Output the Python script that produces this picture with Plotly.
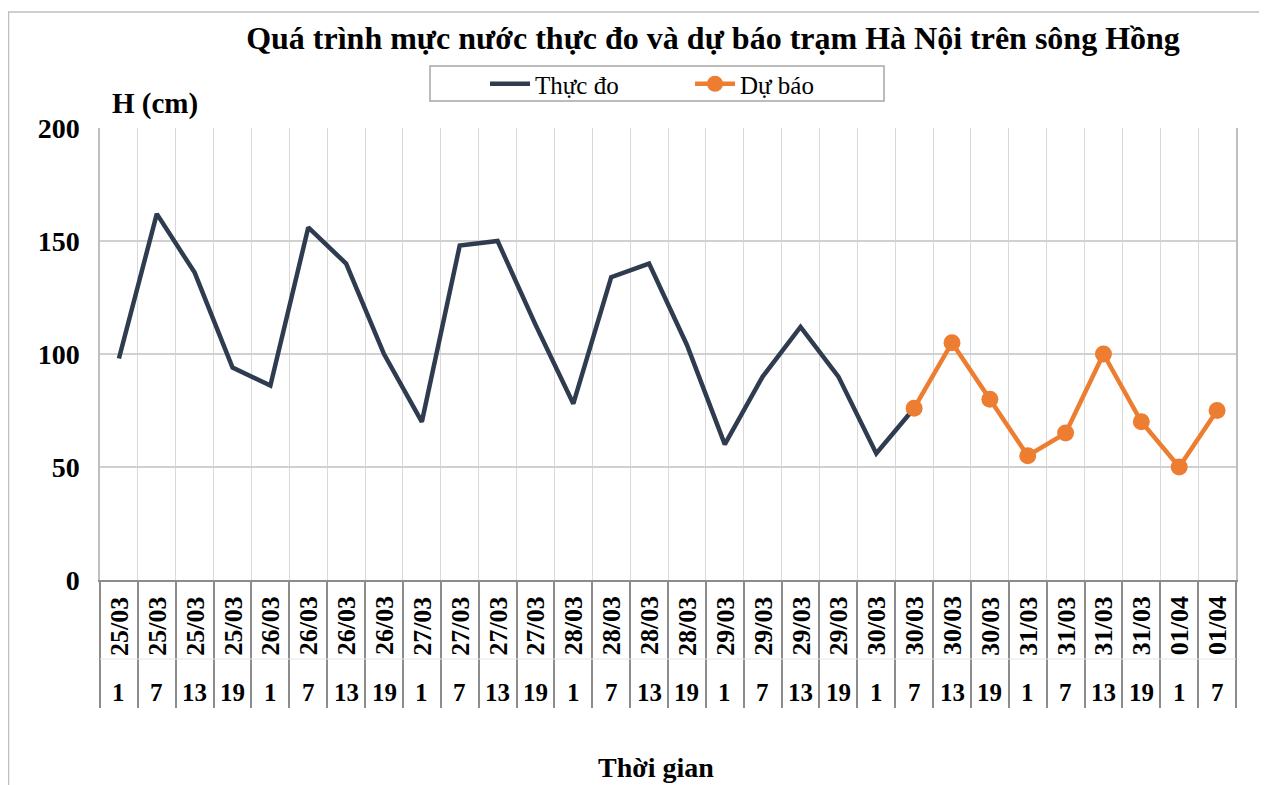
import plotly.graph_objects as go

# ---- data ----
dates = ["25/03"] * 4 + ["26/03"] * 4 + ["27/03"] * 4 + ["28/03"] * 4 + ["29/03"] * 4 + \
        ["30/03"] * 4 + ["31/03"] * 4 + ["01/04"] * 2
hours = ["1", "7", "13", "19"] * 7 + ["1", "7"]
observed = [98, 162, 136, 94, 86, 156, 140, 100, 70, 148, 150, 113, 78, 134, 140, 104,
            60, 90, 112, 90, 56, 76]
forecast = [76, 105, 80, 55, 65, 100, 70, 50, 75]
y_ticks = [0, 50, 100, 150, 200]

title_text = "Quá trình mực nước thực đo và dự báo trạm Hà Nội trên sông Hồng"
y_title = "H (cm)"
x_title = "Thời gian"

# ---- layout geometry (figure pixels; page has an 8px body margin) ----
W, H = 1259, 777
L, R, T, B = 92, 1228, 120, 572


def px_x(p):
    return (p - L) / (R - L)


def px_y(p):
    return (B - p) / (B - T)


n = len(dates)
idx = list(range(n))
obs_x = idx[:len(observed)]
fc_start = len(observed) - 1
fc_x = idx[fc_start:fc_start + len(forecast)]

SERIF = "Liberation Serif"

fig = go.Figure()
fig.add_trace(go.Scatter(
    x=obs_x, y=observed, mode="lines", name="Thực đo",
    line=dict(color="#2F3C50", width=4.5),
))
fig.add_trace(go.Scatter(
    x=fc_x, y=forecast, mode="lines+markers", name="Dự báo",
    line=dict(color="#ED7D31", width=4.5),
    marker=dict(color="#ED7D31", size=17),
))

annotations = []
for i in idx:
    annotations.append(dict(
        x=i, xref="x", y=px_y(618), yref="paper", text="<b>" + dates[i] + "</b>",
        textangle=-90, showarrow=False, xanchor="center", yanchor="middle",
        font=dict(family=SERIF, size=26, color="black"),
    ))
    annotations.append(dict(
        x=i, xref="x", y=px_y(684), yref="paper", text="<b>" + hours[i] + "</b>",
        showarrow=False, xanchor="center", yanchor="middle",
        font=dict(family=SERIF, size=25, color="black"),
    ))
annotations.append(dict(
    x=px_x(102), xref="paper", y=px_y(95), yref="paper", text="<b>" + y_title + "</b>",
    showarrow=False, xanchor="left", yanchor="middle",
    font=dict(family=SERIF, size=29, color="black"),
))
annotations.append(dict(
    x=px_x(648), xref="paper", y=px_y(759), yref="paper", text="<b>" + x_title + "</b>",
    showarrow=False, xanchor="center", yanchor="middle",
    font=dict(family=SERIF, size=28, color="black"),
))

shapes = [
    # outer chart frame
    dict(type="rect", xref="paper", yref="paper",
         x0=px_x(0.5), x1=px_x(1300), y0=px_y(820), y1=px_y(4),
         line=dict(color="#BFBFBF", width=1.5), fillcolor="rgba(0,0,0,0)", layer="below"),
    # legend box
    dict(type="rect", xref="paper", yref="paper",
         x0=px_x(422), x1=px_x(876), y0=px_y(93), y1=px_y(58),
         line=dict(color="#A6A6A6", width=1.5), fillcolor="white", layer="below"),
    # faint divider between label rows
    dict(type="line", xref="paper", yref="paper",
         x0=0, x1=1, y0=px_y(651), y1=px_y(651),
         line=dict(color="#E6E6E6", width=1)),
]

fig.update_layout(
    width=W, height=H,
    margin=dict(l=L, r=W - R, t=T, b=H - B, autoexpand=False),
    paper_bgcolor="white", plot_bgcolor="white",
    title=dict(text="<b>" + title_text + "</b>", x=705 / W,
               xanchor="center", y=1 - 30 / H, yanchor="middle",
               font=dict(family=SERIF, size=32, color="black")),
    showlegend=True,
    legend=dict(orientation="h", x=px_x(477), xanchor="left", y=px_y(76), yanchor="middle",
                borderwidth=0, bgcolor="rgba(0,0,0,0)",
                font=dict(family=SERIF, size=25, color="black"),
                entrywidth=150, itemwidth=40),
    annotations=annotations,
    shapes=shapes,
    font=dict(family=SERIF, color="black"),
)
fig.update_xaxes(
    range=[-0.5, n - 0.5],
    tickvals=[i - 0.5 for i in range(n + 1)],
    showticklabels=False,
    showgrid=True, gridcolor="#D9D9D9", gridwidth=1,
    ticks="outside", ticklen=126, tickcolor="#8C8C8C", tickwidth=1.5,
    showline=True, linecolor="#8C8C8C", linewidth=1.5,
    zeroline=False,
)
fig.update_yaxes(
    range=[0, 200],
    tickvals=y_ticks,
    ticktext=["<b>%d</b>" % v for v in y_ticks],
    tickfont=dict(family=SERIF, size=28, color="black"),
    showgrid=True, gridcolor="#D0D0D0", gridwidth=1.5,
    showline=True, linecolor="#BFBFBF", linewidth=1.5, mirror=True,
    ticks="", ticklabelstandoff=13,
    zeroline=False,
)

fig.write_html("out.html")
